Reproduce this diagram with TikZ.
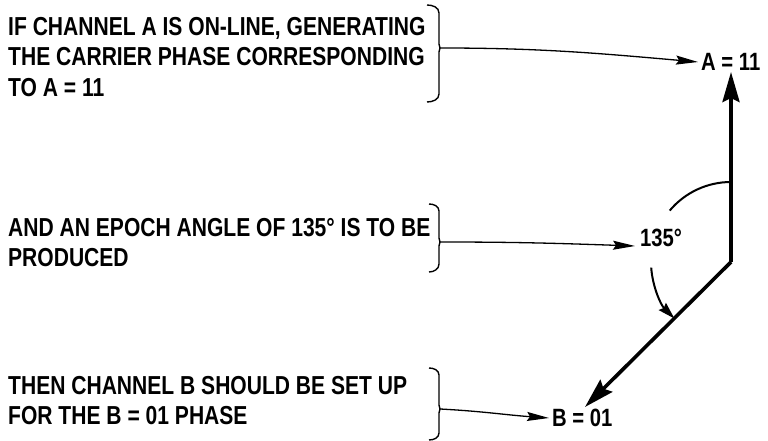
\documentclass[tikz,border=0pt]{standalone}
\usepackage{fontspec}
\setmainfont{Liberation Sans}[FakeStretch=0.81]
\usetikzlibrary{arrows.meta}
\begin{document}
\begin{tikzpicture}[x=1pt,y=1pt,
  txt/.style={font=\bfseries\fontsize{26}{30.5}\selectfont, align=left, inner sep=0pt, anchor=north west},
  lbl/.style={font=\bfseries\fontsize{25}{30}\selectfont, inner sep=0pt, anchor=west},
  brk/.style={line width=1.4pt},
  thin/.style={line width=1.3pt, -{Stealth[length=22pt,width=9pt,inset=3pt]}},
  vec/.style={line width=3.6pt, -{Stealth[length=30pt,width=17pt,inset=4pt]}},
  arcs/.style={line width=2pt}
]
\useasboundingbox (0,0) rectangle (768,441);
% text blocks
\node[txt] (t1) at (8,424) {IF CHANNEL A IS ON-LINE, GENERATING\\THE CARRIER PHASE CORRESPONDING\\TO A = 11};
\node[txt] (t2) at (8,223) {AND AN EPOCH ANGLE OF 135° IS TO BE\\PRODUCED};
\node[txt] (t3) at (8,65) {THEN CHANNEL B SHOULD BE SET UP\\FOR THE B = 01 PHASE};
% labels
\node[lbl] (a11) at (701,379) {A = 11};
\node[lbl] (d135) at (640,203) {135°};
\node[lbl] (b01) at (552,23) {B = 01};
% brackets
\coordinate (b1) at (440,393);
\coordinate (b2) at (440,199);
\coordinate (b3) at (440,32);
\draw[brk] (427,436) to[out=0,in=90] (439,428) -- (439,397) -- (b1) -- (439,389) -- (439,347) to[out=-90,in=0] (427,339);
\draw[brk] (429,237) to[out=0,in=90] (439,230) -- (439,203) -- (b2) -- (439,195) -- (439,177) to[out=-90,in=0] (429,169);
\draw[brk] (429,73) to[out=0,in=90] (439,66) -- (439,36) -- (b3) -- (439,28) -- (439,8) to[out=-90,in=0] (429,1);
% connectors
\draw[thin] (b1) to[out=0,in=175] ([xshift=-3pt]a11.west);
\draw[thin] (b2) to[out=0,in=178] ([xshift=-5pt,yshift=-8pt]d135.west);
\draw[thin] (b3) to[out=-3,in=176] ([xshift=-3pt]b01.west);
% vectors
\coordinate (O) at (731,179);
\coordinate (Atip) at (731,369);
\coordinate (Btip) at (585,34);
\draw[vec] (O) -- (Atip);
\draw[vec] (O) -- (Btip);
% angle arc
\draw[arcs] ([shift={(90:80)}]O) arc[start angle=90,end angle=140,radius=80];
\draw[arcs,-{Stealth[length=17pt,width=10pt,inset=2pt]}] ([shift={(184:80)}]O) arc[start angle=184,end angle=225,radius=80];
\end{tikzpicture}
\end{document}
